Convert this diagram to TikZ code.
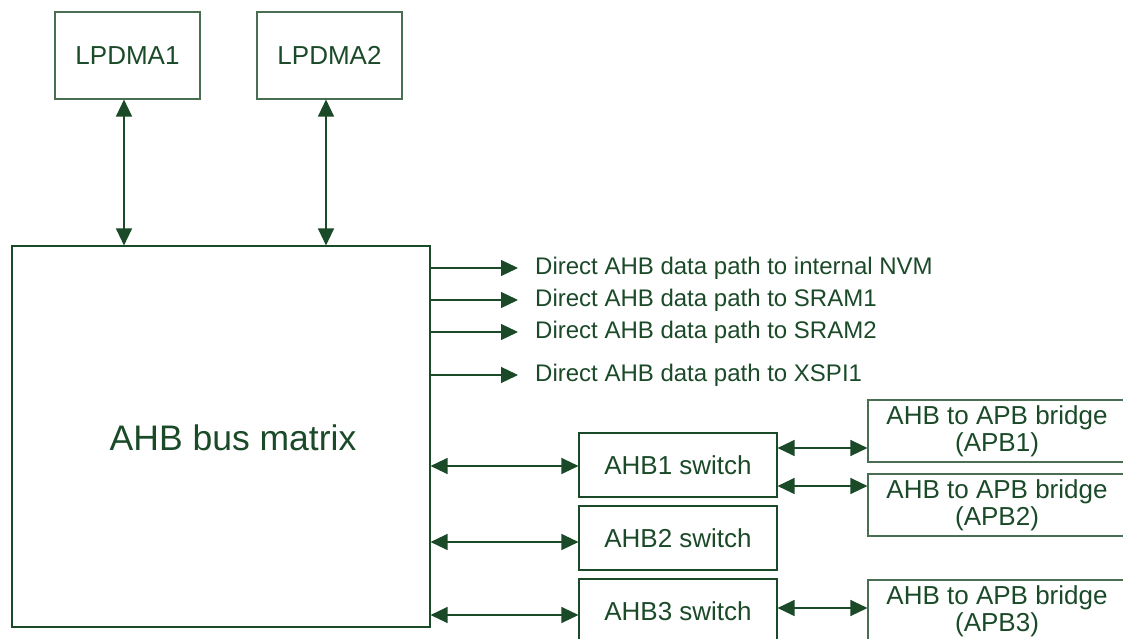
\documentclass[tikz,border=0pt]{standalone}
\usepackage{fontspec}
\setmainfont{Liberation Sans}
\usetikzlibrary{arrows.meta,positioning}
\definecolor{lineg}{HTML}{1A4A28}
\definecolor{textg}{HTML}{1B4A29}
\definecolor{boxg}{HTML}{4A6E52}
\begin{document}
\begin{tikzpicture}[x=1pt,y=-1pt,
  blk/.style={draw=boxg,line width=1.1pt,inner sep=0pt,text=textg,align=center,
    font=\fontsize{26}{28}\selectfont,minimum width=#1},
  path/.style={anchor=west,inner xsep=17pt,inner ysep=0pt,text=textg,font=\fontsize{24}{26}\selectfont},
  one/.style={draw=lineg,line width=1.2pt,-{Triangle[length=17pt,width=16pt]}},
  both/.style={draw=lineg,line width=1.2pt,{Triangle[length=17pt,width=16pt]}-{Triangle[length=17pt,width=16pt]}}]
  \clip (0,0) rectangle (1123,639);
  % ---- masters
  \node[blk=145pt,minimum height=87pt] (lp1) at (127.5,55.5) {LPDMA1};
  \node[blk=145pt,minimum height=87pt] (lp2) at (329.5,55.5) {LPDMA2};
  % ---- bus matrix
  \node[blk=418pt,minimum height=381pt,draw=lineg] (bus) at (221,436.5) {};
  \node[text=textg,font=\fontsize{35.5}{38}\selectfont] (busl) at (233,438) {AHB bus matrix};
  \draw[both] ([xshift=-3.5pt]lp1.south) -- ([xshift=-3.5pt]lp1.south |- bus.north);
  \draw[both] ([xshift=-3.5pt]lp2.south) -- ([xshift=-3.5pt]lp2.south |- bus.north);
  % ---- direct paths
  \foreach \t/\y [count=\i] in {internal NVM/268,SRAM1/300,SRAM2/332,XSPI1/375}
  {
    \node[path] (d\i) at (518,\y) {Direct AHB data path to \t};
    \draw[one] (bus.east |- d\i) -- (d\i.west);
  }
  % ---- switches
  \node[blk=198pt,minimum height=64pt,draw=lineg] (sw1) at (678,465) {AHB1 switch};
  \node[blk=198pt,minimum height=64pt,draw=lineg] (sw2) at (678,538) {AHB2 switch};
  \node[blk=198pt,minimum height=64pt,draw=lineg] (sw3) at (678,611) {AHB3 switch};
  \foreach \i/\d in {1/1,2/4,3/4}
    \draw[both] ([yshift=-\d pt]bus.east |- sw\i) -- ([yshift=-\d pt]sw\i.west);
  % ---- bridges
  \node[blk=258pt,minimum height=62pt,font=\fontsize{26}{27}\selectfont] (br1) at (997,431) {AHB to APB bridge\\(APB1)};
  \node[blk=258pt,minimum height=62pt,font=\fontsize{26}{27}\selectfont] (br2) at (997,505) {AHB to APB bridge\\(APB2)};
  \node[blk=258pt,minimum height=62pt,font=\fontsize{26}{27}\selectfont] (br3) at (997,611) {AHB to APB bridge\\(APB3)};
  \draw[both] ([yshift=17pt]sw1.east) -- ([yshift=17pt]sw1.east -| br1.west);
  \draw[both] ([yshift=-21pt]sw1.east) -- ([yshift=-21pt]sw1.east -| br2.west);
  \draw[both] ([yshift=3pt]sw3.east) -- ([yshift=3pt]sw3.east -| br3.west);
\end{tikzpicture}
\end{document}
